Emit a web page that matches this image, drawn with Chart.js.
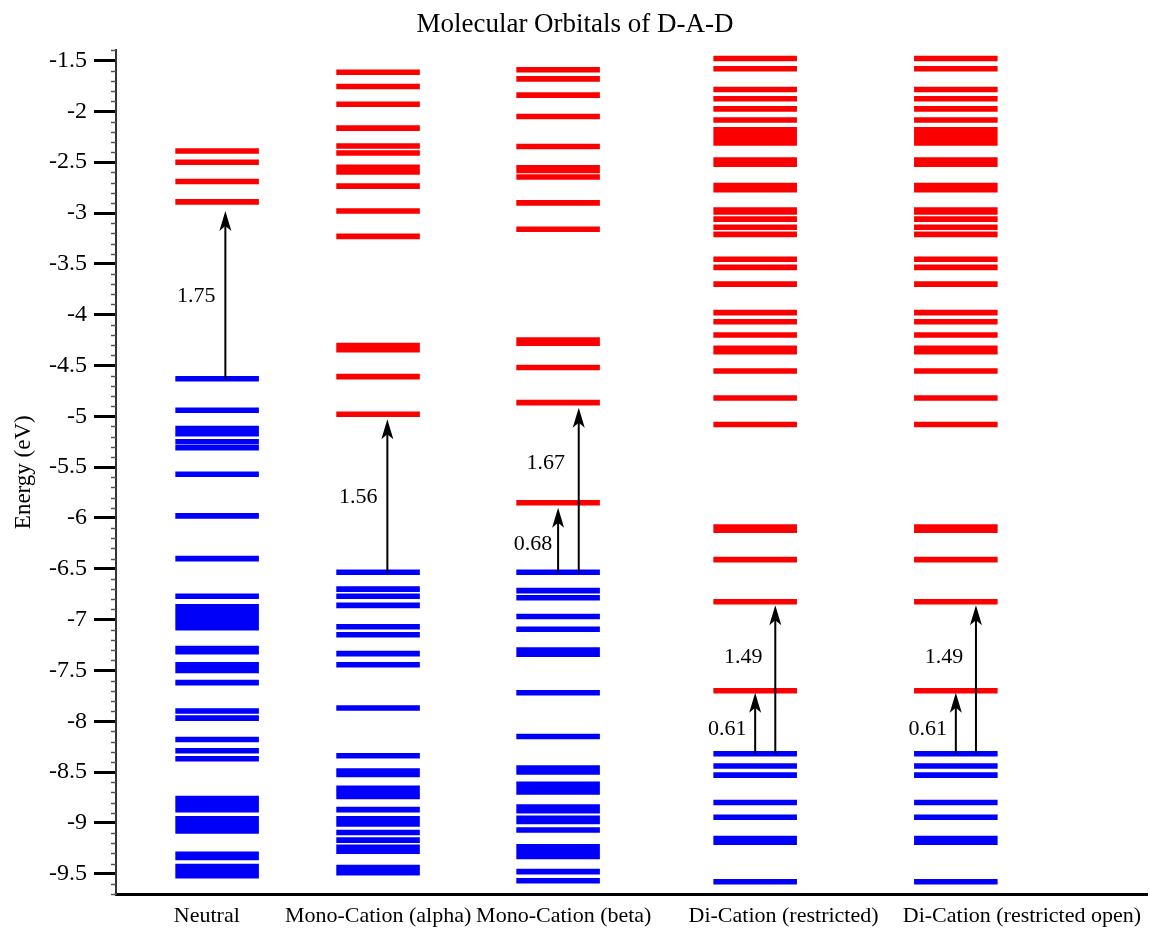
<!DOCTYPE html>
<html>
<head>
<meta charset="utf-8">
<script src="https://cdn.jsdelivr.net/npm/chart.js@4.4.1/dist/chart.umd.min.js"></script>
<style>
  body { margin: 0; background: #fff; }
  #wrap { width: 1150px; height: 933px; }
</style>
</head>
<body>
<div id="wrap"><canvas id="moChart" width="1150" height="933"></canvas></div>
<script>
// columns (x positions on a 0..10 axis) and their names
const columnNames = ['Neutral', 'Mono-Cation (alpha)', 'Mono-Cation (beta)', 'Di-Cation (restricted)', 'Di-Cation (restricted open)'];
const columnCenters = [0.98, 2.54, 4.285, 6.195, 8.14];
const labelCenters = [0.88, 2.54, 4.34, 6.47, 8.78];
const yTickValues = [-9.5, -9, -8.5, -8, -7.5, -7, -6.5, -6, -5.5, -5, -4.5, -4, -3.5, -3, -2.5, -2, -1.5];

// orbital energies (eV), occupied = blue, virtual = red
const neutralVirt = [-2.39, -2.50, -2.69, -2.89];
const neutralOcc = [-4.63, -4.94, -5.12, -5.17, -5.25, -5.31, -5.57, -5.98, -6.40, -6.77, -6.875, -6.93, -6.98, -7.03, -7.08,
  -7.285, -7.315, -7.445, -7.50, -7.62, -7.90, -7.97, -8.18, -8.29, -8.37, -8.76, -8.80, -8.84, -8.87,
  -8.96, -9.00, -9.04, -9.08, -9.31, -9.34, -9.43, -9.475, -9.52];

const alphaVirt = [-1.615, -1.755, -1.93, -2.165, -2.34, -2.41, -2.55, -2.595, -2.735, -2.98, -3.23, -4.305, -4.345, -4.61, -4.98];
const alphaOcc = [-6.535, -6.70, -6.77, -6.86, -7.07, -7.15, -7.335, -7.445, -7.87, -8.34, -8.49, -8.525, -8.66, -8.70, -8.74,
  -8.87, -8.96, -9.01, -9.095, -9.17, -9.24, -9.28, -9.44, -9.49];

const betaVirt = [-1.59, -1.68, -1.84, -2.05, -2.345, -2.555, -2.58, -2.645, -2.90, -3.16, -4.25, -4.28, -4.52, -4.865, -5.85];
const betaOcc = [-6.535, -6.715, -6.785, -6.97, -7.095, -7.30, -7.34, -7.72, -8.15, -8.46, -8.50, -8.62, -8.66, -8.695,
  -8.845, -8.88, -8.955, -8.985, -9.07, -9.235, -9.28, -9.33, -9.48, -9.57];

const diVirt = [-1.48, -1.58, -1.785, -1.875, -1.975, -2.085, -2.18, -2.225, -2.27, -2.31, -2.48, -2.52, -2.73, -2.77,
  -2.97, -2.99, -3.06, -3.14, -3.21, -3.455, -3.535, -3.70, -3.98, -4.07, -4.20, -4.33, -4.365, -4.555, -4.82, -5.08,
  -6.09, -6.12, -6.41, -6.825, -7.70];
const diOcc = [-8.32, -8.44, -8.53, -8.80, -8.945, -9.155, -9.19, -9.58];

const diOpenVirt = [-1.48, -1.58, -1.785, -1.875, -1.975, -2.085, -2.18, -2.225, -2.27, -2.31, -2.48, -2.52, -2.73, -2.77,
  -2.97, -2.99, -3.06, -3.14, -3.21, -3.455, -3.535, -3.70, -3.98, -4.07, -4.20, -4.33, -4.365, -4.555, -4.82, -5.08,
  -6.09, -6.12, -6.41, -6.825, -7.70];
const diOpenOcc = [-8.32, -8.44, -8.53, -8.80, -8.945, -9.155, -9.19, -9.58];

// excitation arrows
const arrowColumn = [0, 1, 2, 2, 3, 3, 4, 4];
const arrowFrom = [-4.63, -6.535, -6.535, -6.535, -8.32, -8.32, -8.32, -8.32];
const arrowTo = [-2.98, -5.03, -5.90, -4.915, -7.72, -6.86, -7.72, -6.86];
const arrowLabel = ['1.75', '1.56', '0.68', '1.67', '0.61', '1.49', '0.61', '1.49'];

const RED = 'rgb(250,0,0)';
const BLUE = 'rgb(0,0,250)';
const HALF = 0.405;

function levelData(col, levels) {
  const c = columnCenters[col];
  const pts = [];
  levels.forEach(e => {
    pts.push({ x: c - HALF, y: e }, { x: c + HALF, y: e }, { x: c, y: null });
  });
  return pts;
}

function levelSet(col, levels, color) {
  return {
    data: levelData(col, levels),
    borderColor: color,
    borderWidth: 5.6,
    borderCapStyle: 'butt',
    pointRadius: 0,
    spanGaps: false,
    tension: 0
  };
}

// per-arrow layout: x shift from column center (axis units), label offset (px), label fraction along arrow
const arrowLayout = [
  { dx: 0.08, lx: -29, t: 0.49 },
  { dx: 0.09, lx: -29, t: 0.49 },
  { dx: 0.0, lx: -25, t: 0.43 },
  { dx: 0.2, lx: -33, t: 0.66 },
  { dx: 0.0, lx: -28, t: 0.40 },
  { dx: 0.195, lx: -32, t: 0.65 },
  { dx: 0.0, lx: -28, t: 0.40 },
  { dx: 0.195, lx: -32, t: 0.65 }
];

const arrowPlugin = {
  id: 'arrows',
  afterDatasetsDraw(chart) {
    const ctx = chart.ctx;
    const xs = chart.scales.x, ys = chart.scales.y;
    ctx.save();
    arrowColumn.forEach((col, i) => {
      const lay = arrowLayout[i];
      const x = xs.getPixelForValue(columnCenters[col] + lay.dx);
      const y0 = ys.getPixelForValue(arrowFrom[i]);
      const y1 = ys.getPixelForValue(arrowTo[i]);
      ctx.strokeStyle = '#000';
      ctx.lineWidth = 2;
      ctx.beginPath();
      ctx.moveTo(x, y0);
      ctx.lineTo(x, y1 + 12);
      ctx.stroke();
      ctx.fillStyle = '#000';
      ctx.beginPath();
      ctx.moveTo(x, y1);
      ctx.lineTo(x - 6, y1 + 20);
      ctx.lineTo(x, y1 + 15);
      ctx.lineTo(x + 6, y1 + 20);
      ctx.closePath();
      ctx.fill();
      const ly = ys.getPixelForValue(arrowFrom[i] + (arrowTo[i] - arrowFrom[i]) * lay.t);
      ctx.font = '22px "Liberation Serif"';
      ctx.textAlign = 'center';
      ctx.textBaseline = 'middle';
      ctx.fillText(arrowLabel[i], x + lay.lx, ly);
    });
    ctx.restore();
  }
};

const minorTicks = {
  id: 'minorTicks',
  afterDraw(chart) {
    const ctx = chart.ctx;
    const ys = chart.scales.y;
    const left = chart.chartArea.left;
    ctx.save();
    ctx.strokeStyle = '#555';
    ctx.lineWidth = 1.5;
    for (let i = -97; i <= -14; i++) {
      if (i % 5 === 0) continue;
      const y = Math.round(ys.getPixelForValue(i / 10)) + 0.5;
      ctx.beginPath();
      ctx.moveTo(left - 5, y);
      ctx.lineTo(left, y);
      ctx.stroke();
    }
    ctx.restore();
  }
};

const datasets = [
  levelSet(0, neutralVirt, RED), levelSet(0, neutralOcc, BLUE),
  levelSet(1, alphaVirt, RED), levelSet(1, alphaOcc, BLUE),
  levelSet(2, betaVirt, RED), levelSet(2, betaOcc, BLUE),
  levelSet(3, diVirt, RED), levelSet(3, diOcc, BLUE),
  levelSet(4, diOpenVirt, RED), levelSet(4, diOpenOcc, BLUE)
];

const serif = '"Liberation Serif", "Times New Roman", serif';

const mo = document.getElementById('moChart').getContext('2d');
let moChart = new Chart(mo, {
  type: 'line',
  data: { datasets: datasets },
  options: {
    responsive: false,
    animation: false,
    layout: { padding: 0 },
    plugins: {
      legend: { display: false },
      tooltip: { enabled: false },
      title: {
        display: true,
        text: 'Molecular Orbitals of D-A-D',
        color: '#000',
        font: { family: serif, size: 27, weight: 'normal' },
        padding: { top: 9, bottom: 9 }
      }
    },
    scales: {
      x: {
        type: 'linear',
        min: 0,
        max: 10,
        afterBuildTicks: scale => { scale.ticks = labelCenters.map(v => ({ value: v })); },
        afterFit: scale => { scale.height = 39; },
        ticks: {
          autoSkip: false,
          maxRotation: 0,
          padding: 9,
          color: '#000',
          font: { family: serif, size: 22 },
          callback: (v, i) => columnNames[i]
        },
        grid: { display: false, drawTicks: false },
        border: { display: true, color: '#000', width: 3 }
      },
      y: {
        min: -9.7,
        max: -1.4,
        afterBuildTicks: scale => { scale.ticks = yTickValues.map(v => ({ value: v })); },
        afterFit: scale => { scale.width = 116; },
        ticks: {
          padding: 7,
          color: '#000',
          font: { family: serif, size: 24 },
          callback: v => String(v)
        },
        grid: { drawOnChartArea: false, tickLength: 22, tickWidth: 3, tickColor: '#000' },
        border: { display: true, color: '#333', width: 2 },
        title: {
          display: true,
          text: 'Energy (eV)',
          color: '#000',
          font: { family: serif, size: 23 },
          padding: { top: 10, bottom: 0 }
        }
      }
    }
  },
  plugins: [arrowPlugin, minorTicks]
});
</script>
</body>
</html>
